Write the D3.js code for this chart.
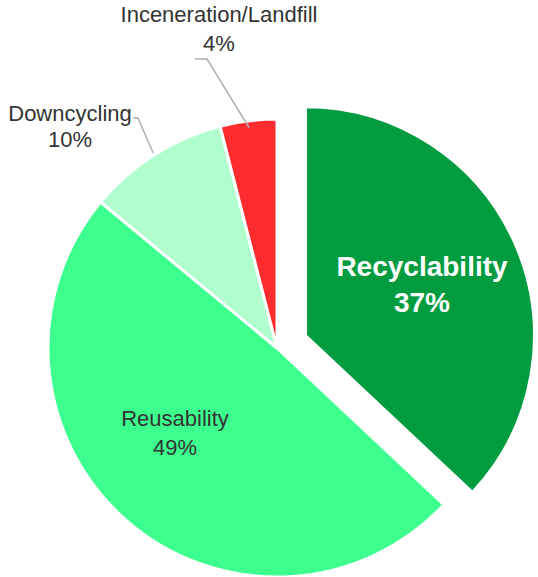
<!DOCTYPE html>
<html><head><meta charset="utf-8">
<script src="https://cdn.jsdelivr.net/npm/d3@7"></script>
<style>html,body{margin:0;padding:0;background:#fff;}svg{display:block;}</style>
</head><body>
<svg id="chart" width="538" height="577"></svg>
<script>
const categories = ["Recyclability", "Reusability", "Downcycling", "Inceneration/Landfill"];
const values = [37, 49, 10, 4];
const colors = ["#029c40", "#3cff8d", "#b0fece", "#fe2c2e"];

const svg = d3.select("#chart");
const cx = 277, cy = 348, R = 229, explode = 31;
const g = svg.append("g").attr("transform", `translate(${cx},${cy})`);

const data = categories.map((c, i) => ({cat: c, value: values[i], color: colors[i], i}));
const pie = d3.pie().sort(null).value(d => d.value).startAngle(0).endAngle(2 * Math.PI);
const arcs = pie(data);
const arc = d3.arc().innerRadius(0).outerRadius(R);

function dir(a) { return [Math.sin(a), -Math.cos(a)]; }

g.selectAll("path.slice").data(arcs).enter().append("path")
  .attr("class", "slice")
  .attr("d", arc)
  .attr("fill", d => d.data.color)
  .attr("stroke", "#fff")
  .attr("stroke-width", 3)
  .attr("stroke-linejoin", "round")
  .attr("transform", d => {
    if (d.index === 0) {
      const m = (d.startAngle + d.endAngle) / 2;
      const [dx, dy] = dir(m);
      return `translate(${dx * explode},${dy * explode})`;
    }
    return null;
  });

const font = "'Liberation Sans', Arial, Helvetica, sans-serif";

// Inside labels
const inside = [
  {idx: 0, x: 422, y1: 276, y2: 312, size: 28, weight: "bold", fill: "#ffffff"},
  {idx: 1, x: 175, y1: 426, y2: 455, size: 22, weight: "normal", fill: "#333333"}
];
inside.forEach(l => {
  const d = arcs[l.idx];
  svg.append("text").attr("x", l.x).attr("y", l.y1).attr("text-anchor", "middle")
    .attr("font-family", font).attr("font-size", l.size).attr("font-weight", l.weight)
    .attr("fill", l.fill).text(d.data.cat);
  svg.append("text").attr("x", l.x).attr("y", l.y2).attr("text-anchor", "middle")
    .attr("font-family", font).attr("font-size", l.size).attr("font-weight", l.weight)
    .attr("fill", l.fill).text(d.data.value + "%");
});

// Outside labels with leader lines
const outside = [
  {idx: 2, x: 70, y1: 121, y2: 147, lineStart: [133, 118], elbow: [138, 118], rr: 231},
  {idx: 3, x: 219, y1: 22, y2: 51, lineStart: [195, 59], elbow: [207, 59], rr: 222}
];
outside.forEach(l => {
  const d = arcs[l.idx];
  const m = (d.startAngle + d.endAngle) / 2;
  const [dx, dy] = dir(m);
  const end = [cx + dx * l.rr, cy + dy * l.rr];
  svg.append("polyline")
    .attr("points", [l.lineStart, l.elbow, end].map(p => p.join(",")).join(" "))
    .attr("fill", "none").attr("stroke", "#b0b0b0").attr("stroke-width", 1.5);
  svg.append("text").attr("x", l.x).attr("y", l.y1).attr("text-anchor", "middle")
    .attr("font-family", font).attr("font-size", 22).attr("fill", "#333333").text(d.data.cat);
  svg.append("text").attr("x", l.x).attr("y", l.y2).attr("text-anchor", "middle")
    .attr("font-family", font).attr("font-size", 22).attr("fill", "#333333").text(d.data.value + "%");
});
</script>
</body></html>
